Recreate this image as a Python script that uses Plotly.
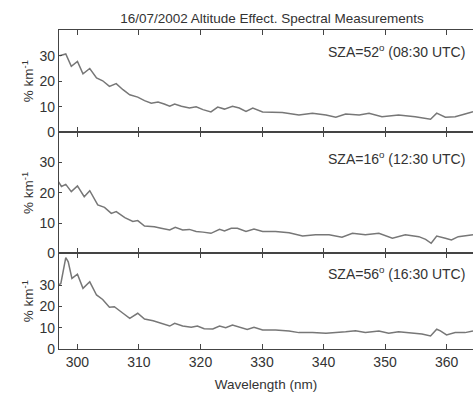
import plotly.graph_objects as go

# Panel 1: SZA=52 (08:30 UTC)
wl_52 = [297.1, 298.1, 299.0, 300.0, 300.9, 302.0, 303.1, 304.1, 305.2, 306.3, 307.4, 308.5,
         309.8, 310.9, 312.0, 313.1, 314.1, 315.0, 315.8, 316.9, 318.2, 319.3, 320.4, 321.7,
         322.8, 323.9, 325.2, 326.3, 327.4, 328.5, 330.1, 333.3, 336.0, 338.2, 340.4, 342.0,
         343.6, 345.8, 347.4, 349.5, 352.2, 354.9, 357.4, 358.4, 359.8, 361.4, 363.0, 364.3]
val_52 = [30.0, 30.7, 25.9, 27.8, 22.9, 25.0, 21.3, 20.2, 18.0, 19.1, 16.7, 14.7,
          13.8, 12.4, 11.4, 11.9, 11.1, 10.2, 11.1, 10.2, 9.5, 10.0, 8.9, 8.0,
          9.9, 9.1, 10.2, 9.5, 8.2, 9.5, 8.0, 7.8, 6.8, 7.5, 6.8, 5.9,
          7.2, 6.8, 7.5, 6.1, 6.8, 6.1, 5.1, 7.5, 5.9, 6.1, 7.2, 8.1]

# Panel 2: SZA=16 (12:30 UTC)
wl_16 = [296.9, 297.4, 298.1, 299.0, 300.0, 301.1, 302.0, 303.3, 304.4, 305.5, 306.3, 307.7,
         309.0, 309.8, 310.9, 312.5, 313.6, 315.0, 315.9, 317.1, 318.2, 319.3, 320.4, 321.7,
         323.1, 323.9, 325.0, 326.0, 327.4, 328.7, 330.1, 332.2, 334.4, 336.6, 338.7, 340.9,
         343.0, 344.7, 346.8, 349.0, 351.2, 353.3, 355.5, 356.6, 357.5, 358.4, 359.8, 360.8,
         361.9, 364.3]
val_16 = [23.7, 22.1, 22.8, 20.4, 22.3, 18.7, 20.7, 16.0, 15.2, 13.2, 13.8, 11.8,
          10.5, 10.8, 9.0, 8.8, 8.3, 7.7, 8.6, 7.7, 7.9, 7.2, 7.0, 6.6,
          7.9, 7.4, 8.3, 8.3, 7.2, 8.0, 7.2, 7.2, 6.8, 5.7, 6.1, 6.1,
          5.3, 6.6, 6.1, 6.6, 5.0, 6.1, 5.5, 4.6, 3.3, 5.7, 5.0, 4.4,
          5.5, 6.1]

# Panel 3: SZA=56 (16:30 UTC)
wl_56 = [296.9, 297.3, 298.1, 298.5, 299.1, 300.0, 300.9, 302.0, 303.1, 304.1, 305.2, 306.0,
         307.4, 308.5, 309.8, 310.9, 312.3, 313.6, 315.0, 315.8, 317.1, 318.5, 319.5, 320.6,
         322.0, 323.1, 324.1, 325.2, 326.6, 327.6, 328.7, 330.1, 332.2, 334.4, 336.0, 338.2,
         340.4, 342.5, 343.6, 345.2, 346.8, 349.0, 350.6, 352.2, 354.4, 356.0, 357.4, 358.4,
         359.0, 360.0, 361.4, 363.0, 364.3]
val_56 = [30.0, 30.8, 43.0, 41.0, 33.2, 35.2, 28.5, 31.6, 25.4, 23.3, 19.6, 19.9,
          16.8, 14.4, 16.8, 14.1, 13.3, 12.1, 10.8, 12.1, 10.8, 10.2, 10.8, 9.5,
          9.4, 10.8, 10.0, 11.3, 10.2, 9.2, 10.2, 8.9, 8.9, 8.5, 7.7, 7.8,
          7.4, 7.7, 8.1, 8.6, 7.8, 8.5, 7.4, 8.1, 7.4, 7.0, 6.1, 9.3,
          8.5, 6.6, 7.7, 7.7, 8.5]

labels = ["SZA=52<sup>o</sup> (08:30 UTC)",
          "SZA=16<sup>o</sup> (12:30 UTC)",
          "SZA=56<sup>o</sup> (16:30 UTC)"]
y_ranges = [[0, 40.1], [0, 40], [0, 45]]
y_ticks = [0, 10, 20, 30]
x_ticks = [300, 310, 320, 330, 340, 350, 360]
x_range = [297.0, 364.3]

FONT = "Liberation Sans, Arial, sans-serif"
TXT = "#333333"
AX = "#444444"
LINE = "#777777"

series = [(wl_52, val_52), (wl_16, val_16), (wl_56, val_56)]
domains = [[0.6793, 1.0], [0.30, 0.6793], [0.0, 0.30]]

fig = go.Figure()
for i, (wx, vy) in enumerate(series):
    n = "" if i == 0 else str(i + 1)
    fig.add_trace(go.Scatter(x=wx, y=vy, mode="lines",
                             line=dict(color=LINE, width=1.5),
                             xaxis="x" + n, yaxis="y" + n, showlegend=False,
                             hoverinfo="skip"))
    xa = dict(range=x_range, domain=[0, 1], anchor="y" + n,
              tickvals=x_ticks, ticks="inside", ticklen=5, tickwidth=1.3,
              tickcolor=AX, showline=True, linecolor=AX, linewidth=1.3,
              mirror="ticks", showgrid=False, zeroline=False,
              showticklabels=(i == 2),
              tickfont=dict(family=FONT, size=14, color=TXT))
    if i == 2:
        xa["title"] = dict(text="Wavelength (nm)", standoff=10,
                           font=dict(family=FONT, size=13.5, color=TXT))
    else:
        xa["matches"] = "x3"
    ya = dict(range=y_ranges[i], domain=domains[i], anchor="x" + n,
              tickvals=y_ticks, ticks="inside", ticklen=3, tickwidth=1,
              tickcolor=AX, showline=True, linecolor=AX, linewidth=1.3,
              showgrid=False, zeroline=False,
              tickfont=dict(family=FONT, size=14, color=TXT),
              title=dict(text="% km<sup>-1</sup>", standoff=2,
                         font=dict(family=FONT, size=13.5, color=TXT)))
    fig.layout["xaxis" + n] = xa
    fig.layout["yaxis" + n] = ya
    fig.add_annotation(text=labels[i], xref="x" + n, yref="y" + n,
                       x=363.4, y=y_ranges[i][1] * 0.79, xanchor="right",
                       yanchor="middle", showarrow=False,
                       font=dict(family=FONT, size=14, color=TXT))

fig.update_layout(
    width=473, height=396,
    margin=dict(l=59, r=0, t=30, b=47),
    paper_bgcolor="white", plot_bgcolor="white",
    title=dict(text="16/07/2002 Altitude Effect. Spectral Measurements",
               x=0.575, xanchor="center", y=0.955, yanchor="middle",
               font=dict(family=FONT, size=13.5, color=TXT)),
)

fig.write_html("out.html")
